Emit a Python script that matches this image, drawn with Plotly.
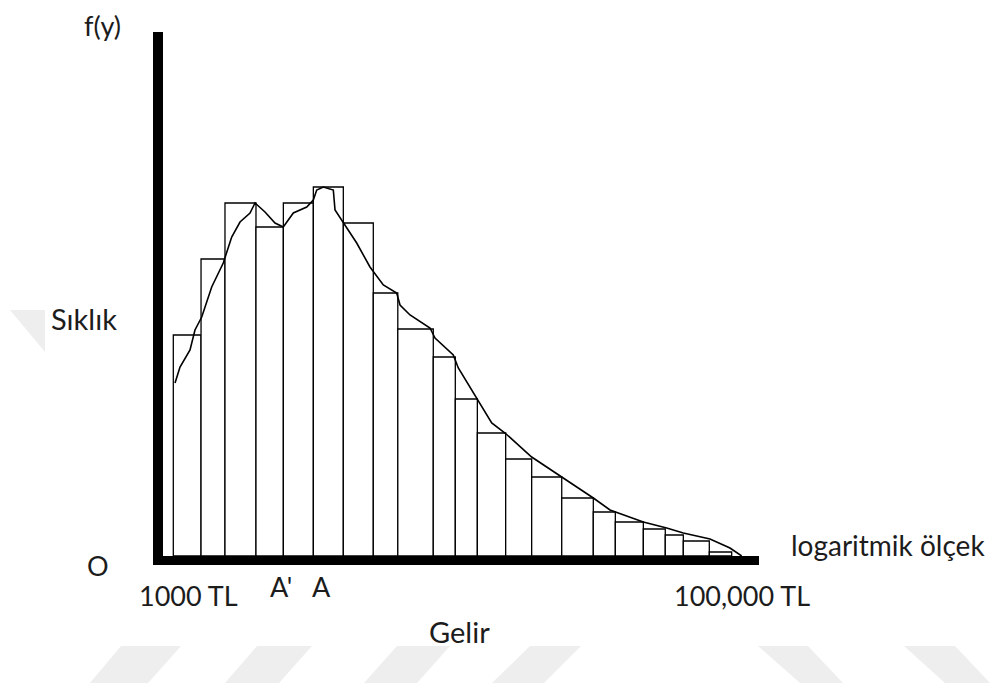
import numpy as np
import plotly.graph_objects as go

# ---------------- data ----------------
# histogram bin edges on income (TL), logarithmic scale
bin_edges_tl = [1000, 1252, 1520, 1954, 2439, 3110, 3965, 5055, 6165, 8218, 9824,
                11744, 14775, 18240, 23270, 30050, 35920, 45070, 53840, 62310,
                76910, 92210]
# frequency (arbitrary units) of each bin
bin_freq = [221, 297, 353, 329, 353, 369, 333, 263, 227, 199, 157,
            123, 97, 79, 58, 44, 34, 27, 21, 15, 4]

# smooth density curve f(y)
curve_tl = [1014, 1056, 1145, 1192, 1259, 1365, 1499, 1605, 1717, 1862, 1939,
            2102, 2280, 2438, 2644, 2948, 3109, 3196, 3372, 3656, 3707, 3965,
            4419, 4921, 5482, 6110, 6277, 6806, 8004, 8335, 9664, 10065, 11683,
            13194, 14694, 18240, 23265, 30054, 34405, 45060, 54460, 62310,
            77330, 90950, 100000]
curve_freq = [173, 189, 206, 226, 239, 269, 293, 319, 334, 343, 353,
              344, 333, 329, 343, 349, 356, 366, 369, 366, 346, 333,
              313, 289, 271, 263, 251, 241, 228, 218, 201, 188, 158,
              133, 123, 99, 79, 58, 46, 34, 28, 23,
              17, 8, 0]

# point labels on the income axis
mark_labels = ["A'", "A"]
mark_tl = [2390, 3320]
end_labels = ["1000 TL", "100,000 TL"]
end_tl = [1128, 100000]

# ---------------- geometry ----------------
OFF = 8  # default page margin of the html body
W, H = 998, 688
L, R, T, B = 163, 759, 32, 556          # plot area in page pixels
x_range = [2.96376, 5.06087]
y_range = [0, B - T]

edges = np.log10(np.array(bin_edges_tl, dtype=float))
centers = (edges[:-1] + edges[1:]) / 2
widths = edges[1:] - edges[:-1]

def px_x(px):
    return (px - L) / (R - L)

def px_y(py):
    return (B - py) / (B - T)

fig = go.Figure()

fig.add_trace(go.Bar(
    x=centers, y=bin_freq, width=widths, base=0,
    marker=dict(color="white", line=dict(color="black", width=1.3)),
    hoverinfo="skip", showlegend=False,
))

fig.add_trace(go.Scatter(
    x=np.log10(np.array(curve_tl, dtype=float)), y=curve_freq,
    mode="lines", line=dict(color="black", width=1.6),
    hoverinfo="skip", showlegend=False, cliponaxis=False,
))

font = dict(family="Lato", size=29, color="#1c1c1c")
ann = []

def add_px(text, cx, cy, size=29):
    ann.append(dict(text=text, xref="paper", yref="paper", x=px_x(cx), y=px_y(cy),
                    xanchor="center", yanchor="middle", showarrow=False,
                    font=dict(font, size=size)))

add_px("f(y)", 102, 25, 27)
add_px("Sıklık", 84, 318)
add_px("O", 98, 565, 27)
add_px("logaritmik ölçek", 888, 545, 28)
add_px("Gelir", 459, 631)

for txt, v in zip(end_labels, end_tl):
    ann.append(dict(text=txt, xref="x", yref="paper", x=np.log10(v), y=px_y(595),
                    xanchor="center", yanchor="middle", showarrow=False,
                    font=dict(font, size=27)))
for txt, v in zip(mark_labels, mark_tl):
    ann.append(dict(text=txt, xref="x", yref="paper", x=np.log10(v), y=px_y(586),
                    xanchor="center", yanchor="middle", showarrow=False,
                    font=dict(font, size=27)))

# faint watermark shapes (background decoration)
wm_color = "#eeeeee"
paras = [
    ((121, 181), (90, 148)),
    ((257, 312), (225, 279)),
    ((397, 450), (364, 417)),
    ((530, 581), (492, 544)),
    ((758, 808), (800, 843)),
    ((904, 955), (945, 990)),
]
shapes = []
for (t0, t1), (b0, b1) in paras:
    path = "M {} {} L {} {} L {} {} L {} {} Z".format(
        px_x(t0), px_y(646), px_x(t1), px_y(646), px_x(b1), px_y(683), px_x(b0), px_y(683))
    shapes.append(dict(type="path", xref="paper", yref="paper", path=path,
                       fillcolor=wm_color, line=dict(width=0), layer="below"))
tri = "M {} {} L {} {} L {} {} Z".format(px_x(10), px_y(310), px_x(45), px_y(310),
                                          px_x(45), px_y(352))
shapes.append(dict(type="path", xref="paper", yref="paper", path=tri,
                   fillcolor=wm_color, line=dict(width=0), layer="below"))

fig.update_layout(
    width=W - OFF, height=H - OFF,
    margin=dict(l=L - OFF, r=W - R, t=T - OFF, b=H - B, pad=0),
    paper_bgcolor="white", plot_bgcolor="white",
    showlegend=False,
    xaxis=dict(range=x_range, showgrid=False, zeroline=False, showticklabels=False,
               ticks="", showline=True, linewidth=9, linecolor="black", fixedrange=True),
    yaxis=dict(range=y_range, showgrid=False, zeroline=False, showticklabels=False,
               ticks="", showline=True, linewidth=10, linecolor="black", fixedrange=True),
    annotations=ann,
    shapes=shapes,
)

fig.write_html("out.html")
